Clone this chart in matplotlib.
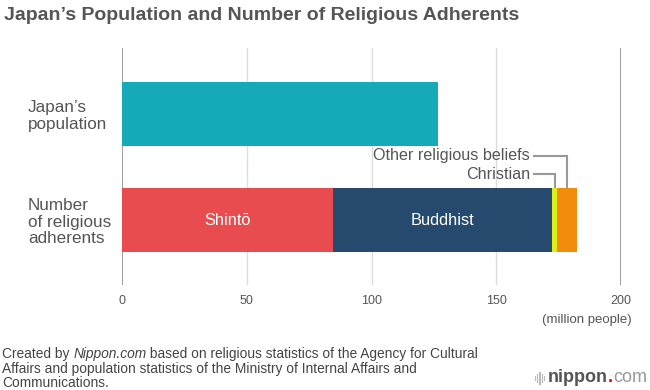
import matplotlib.pyplot as plt
import numpy as np

plt.rcParams['font.family'] = ['Liberation Sans', 'DejaVu Sans']

# data
categories = ["Japan\u2019s\npopulation", "Number\nof religious\nadherents"]
population = 126.7
religions = ["Shint\u014d", "Buddhist", "Christian", "Other religious beliefs"]
adherents = [84.7, 87.7, 1.9, 7.9]
xticks = [0, 50, 100, 150, 200]

colors = ["#E84C4F", "#254A6E", "#DCEF1A", "#F28C0C"]
teal = "#16AAB8"

fig = plt.figure(figsize=(6.5, 3.9), dpi=100)
ax = fig.add_axes([122 / 650, 1 - 285 / 390, 499 / 650, 237 / 390])

bar_h = 0.6
ax.barh(1, population, height=bar_h, color=teal, zorder=2)

lefts = np.concatenate([[0], np.cumsum(adherents)[:-1]])
for name, val, left, c in zip(religions, adherents, lefts, colors):
    ax.barh(0, val, left=left, height=bar_h, color=c, zorder=2)

# labels inside the big segments
for i in range(2):
    ax.text(lefts[i] + adherents[i] / 2, 0, religions[i], color="white",
            ha="center", va="center", fontsize=11.8, zorder=3)

# callouts for the two small segments
label_x = 163.6
line_x0 = 165.0
for i, ty in [(3, 0.607), (2, 0.431)]:
    cx = lefts[i] + adherents[i] / 2
    ax.plot([line_x0, cx, cx], [ty, ty, bar_h / 2], color="#999999", lw=1.5,
            solid_joinstyle="miter", zorder=1)
    ax.text(label_x, ty, religions[i], ha="right", va="center",
            fontsize=11.6, color="#555555")

# grid
for t in xticks:
    edge = t in (xticks[0], xticks[-1])
    ax.axvline(t, color="#8a8a8a" if edge else "#dddddd", lw=1.2 if edge else 1.0, zorder=0)

ax.set_xlim(0, 200)
ax.set_ylim(-0.61, 1.62)
ax.set_xticks(xticks)
ax.set_xticklabels([str(t) for t in xticks], fontsize=9, color="#555555")
ax.set_yticks([1, 0])
ax.set_yticklabels(categories, fontsize=12.3, color="#555555", linespacing=1.12)
for lab in ax.get_yticklabels():
    lab.set_ha("left")
    lab.set_multialignment("left")
ax.tick_params(axis="y", length=0, pad=94 * 0.72)
ax.tick_params(axis="x", length=0, pad=7)
for s in ax.spines.values():
    s.set_visible(False)

fig.text(632 / 650, 1 - 320 / 390, "(million people)", ha="right", va="center",
         fontsize=9.5, color="#555555")

# title
fig.text(4 / 650, 1 - 16 / 390, "Japan\u2019s Population and Number of Religious Adherents",
         fontsize=14, fontweight="bold", color="#555555", ha="left", va="center")

# footer with italic piece
renderer = fig.canvas.get_renderer()
fx = 2 / 650
fy = 1 - 354 / 390
foot_kw = dict(fontsize=9.9, color="#444444", va="center", ha="left")
t1 = fig.text(fx, fy, "Created by ", **foot_kw)
w1 = t1.get_window_extent(renderer).width / 650
t2 = fig.text(fx + w1, fy, "Nippon.com", style="italic", **foot_kw)
w2 = t2.get_window_extent(renderer).width / 650
fig.text(fx + w1 + w2, fy,
         " based on religious statistics of the Agency for Cultural", **foot_kw)
fig.text(fx, 1 - 369 / 390,
         "Affairs and population statistics of the Ministry of Internal Affairs and",
         **foot_kw)
fig.text(fx, 1 - 383 / 390, "Communications.", **foot_kw)

# logo
ly = 1 - 378 / 390
bar_heights = [0.4, 0.7, 1.0, 1.0, 0.7, 0.4]
for k, hgt in enumerate(bar_heights):
    x = (535 + k * 1.8) / 650
    fig.add_artist(plt.Line2D([x, x], [ly - hgt * 6 / 390, ly + hgt * 6 / 390],
                              color="#bbbbbb", lw=0.8))
lg1 = fig.text(548 / 650, ly, "nippon", fontsize=13, fontweight="bold",
               color="#555555", ha="left", va="center")
lw1 = lg1.get_window_extent(renderer).width / 650
lg2 = fig.text(548 / 650 + lw1, ly, ".", fontsize=13, fontweight="bold",
               color="#E60012", ha="left", va="center")
lw2 = lg2.get_window_extent(renderer).width / 650
fig.text(548 / 650 + lw1 + lw2, ly, "com", fontsize=13, color="#999999",
         ha="left", va="center")

fig.savefig("out.png", dpi=100)
